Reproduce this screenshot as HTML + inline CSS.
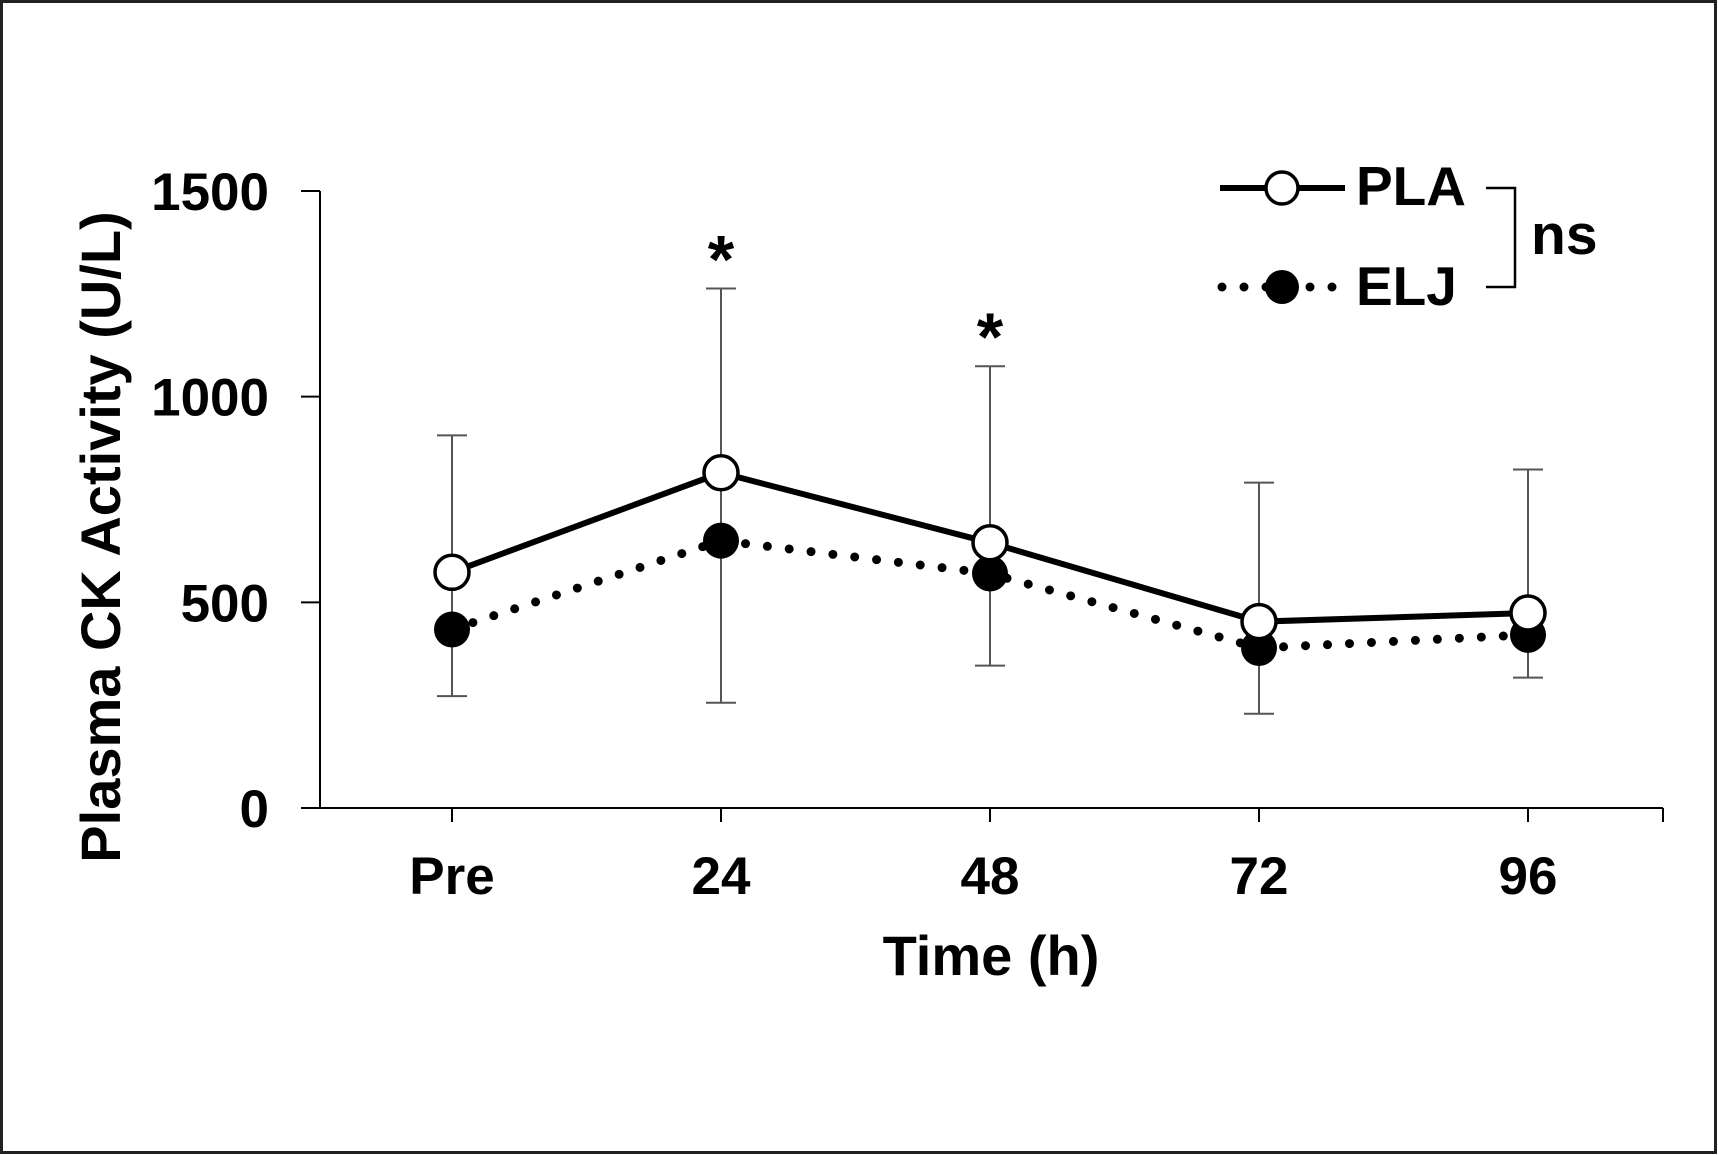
<!DOCTYPE html>
<html><head><meta charset="utf-8"><style>
html,body{margin:0;padding:0;background:#fff;}
svg{display:block;font-family:"Liberation Sans",Arial,sans-serif;font-weight:bold;}
</style></head><body>
<svg id="chart" width="1718" height="1155" viewBox="0 0 1718 1155">
<rect x="1.5" y="1.5" width="1714" height="1151" fill="#fff" stroke="#222" stroke-width="3"/>
<g id="axes"></g>
<g id="series"></g>
<g>
  <line x1="1220" y1="188" x2="1345" y2="188" stroke="#000" stroke-width="6"/>
  <circle cx="1282" cy="188" r="16" fill="#fff" stroke="#000" stroke-width="3.5"/>
  <text x="1356" y="205" font-size="55">PLA</text>
  <line x1="1222" y1="287" x2="1345" y2="287" stroke="#000" stroke-width="9" stroke-linecap="round" stroke-dasharray="0 22"/>
  <circle cx="1282" cy="287" r="17" fill="#000"/>
  <text x="1356" y="305" font-size="55">ELJ</text>
  <path d="M1486 188 H1515 V287 H1486" fill="none" stroke="#000" stroke-width="2.5"/>
  <text x="1531" y="254" font-size="57">ns</text>
</g>
<text x="0" y="0" font-size="56" text-anchor="middle" transform="translate(120,537) rotate(-90)">Plasma CK Activity (U/L)</text>
<text x="991" y="975" font-size="56" text-anchor="middle">Time (h)</text>
</svg>
<script>
const categories = ["Pre","24","48","72","96"];
const plaValues = [573, 815, 645, 453, 474];
const eljValues = [434, 650, 570, 389, 421];
const errUpper = [906, 1263, 1074, 791, 823];
const errLower = [272, 256, 346, 229, 317];
const yTicks = [0, 500, 1000, 1500];
const sigFlags = [false, true, true, false, false];

const NS = "http://www.w3.org/2000/svg";
const X0 = 320, XEND = 1663, Y0 = 808, YTOP = 191;
function xScale(i){ return 452 + i * 269; }
function yScale(v){ return Y0 - (v / 1500) * (Y0 - YTOP); }
function mk(tag, attrs, parent){
  const e = document.createElementNS(NS, tag);
  for (const k in attrs) e.setAttribute(k, attrs[k]);
  parent.appendChild(e); return e;
}
const axes = document.getElementById("axes");
const series = document.getElementById("series");

let el = mk("line", {x1:X0, y1:YTOP, x2:X0, y2:Y0, stroke:"#000", "stroke-width":2}, axes);


el = mk("line", {x1:X0, y1:Y0, x2:XEND, y2:Y0, stroke:"#000", "stroke-width":2}, axes);


el = mk("line", {x1:XEND, y1:Y0, x2:XEND, y2:Y0+14, stroke:"#000", "stroke-width":2}, axes);



yTicks.forEach(v => {
  const y = yScale(v);
  let t = mk("line", {x1:X0-19, y1:y, x2:X0, y2:y, stroke:"#000", "stroke-width":2}, axes);
  
  
  let l = mk("text", {x:269, y:y+19, "font-size":53, "text-anchor":"end"}, axes);
  l.textContent = v;
  
  
});
categories.forEach((c, i) => {
  const x = xScale(i);
  let t = mk("line", {x1:x, y1:Y0, x2:x, y2:Y0+14, stroke:"#000", "stroke-width":2}, axes);
  
  
  let l = mk("text", {x:x, y:894, "font-size":53, "text-anchor":"middle"}, axes);
  l.textContent = c;
  
  
});

categories.forEach((c, i) => {
  const x = xScale(i);
  const yu = yScale(errUpper[i]), yl = yScale(errLower[i]);
  let b = mk("path", {d:`M${x} ${yu} V${yl} M${x-15} ${yu} H${x+15} M${x-15} ${yl} H${x+15}`, stroke:"#555", "stroke-width":2, fill:"none"}, series);
  
  
});

let pe = eljValues.map((v,i)=>`${xScale(i)},${yScale(v)}`).join(" ");
el = mk("polyline", {points:pe, fill:"none", stroke:"#000", "stroke-width":9, "stroke-linecap":"round", "stroke-dasharray":"0 22"}, series);


let pp = plaValues.map((v,i)=>`${xScale(i)},${yScale(v)}`).join(" ");
el = mk("polyline", {points:pp, fill:"none", stroke:"#000", "stroke-width":6}, series);



eljValues.forEach((v,i) => {
  let c = mk("circle", {cx:xScale(i), cy:yScale(v), r:18, fill:"#000"}, series);
  
  
});
plaValues.forEach((v,i) => {
  let c = mk("circle", {cx:xScale(i), cy:yScale(v), r:17, fill:"#fff", stroke:"#000", "stroke-width":3.5}, series);
  
  
});
sigFlags.forEach((s,i) => {
  if (!s) return;
  let a = mk("text", {x:xScale(i), y:yScale(errUpper[i]) - 6, "font-size":68, "text-anchor":"middle"}, series);
  a.textContent = "*";
  
  
});
</script>
</body></html>
